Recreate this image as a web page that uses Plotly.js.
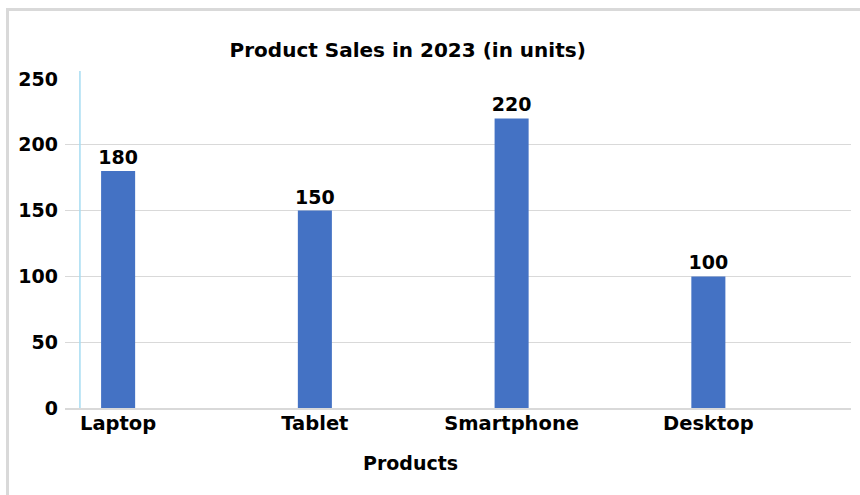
<!DOCTYPE html>
<html>
<head>
<meta charset="utf-8">
<script src="https://cdn.plot.ly/plotly-3.0.1.min.js"></script>
<style>
  html, body { margin: 0; padding: 0; background: #ffffff; }
  #chart { position: absolute; left: 0; top: 0; width: 860px; height: 495px; }
  #frame { position: absolute; left: 6px; top: 8px; width: 900px; height: 600px;
           border-left: 3px solid #d9d9d9; border-top: 3px solid #d9d9d9;
           pointer-events: none; z-index: 5; }
</style>
</head>
<body>
<div id="chart"></div>
<div id="frame"></div>
<script>
const categories = ["Laptop", "Tablet", "Smartphone", "Desktop"];
const sales = [180, 150, 220, 100];
const yTicks = [0, 50, 100, 150, 200, 250];

const FONT = "DejaVu Sans, Liberation Sans, Arial, sans-serif";

const trace = {
  type: "bar",
  x: categories,
  y: sales,
  width: 0.173,
  marker: { color: "#4472C4" },
  text: sales.map(String),
  textposition: "outside",
  constraintext: "none",
  cliponaxis: false,
  textfont: { family: FONT, size: 19, color: "#000000", weight: "bold" },
  hoverinfo: "skip"
};

const layout = {
  width: 860,
  height: 495,
  margin: { l: 65, r: 9, t: 79, b: 87 },
  paper_bgcolor: "#ffffff",
  plot_bgcolor: "#ffffff",
  showlegend: false,
  font: { family: FONT, color: "#000000" },
  title: {
    text: "<b>Product Sales in 2023 (in units)</b>",
    font: { family: FONT, size: 20, color: "#000000" },
    xref: "paper", x: 0.436, xanchor: "center",
    yref: "container", y: 0.899, yanchor: "middle"
  },
  xaxis: {
    type: "category",
    range: [-0.27, 3.725],
    showgrid: false,
    zeroline: false,
    showline: true,
    linecolor: "#d9d9d9",
    linewidth: 2,
    ticks: "",
    ticklabelstandoff: -3,
    tickfont: { family: FONT, size: 19.5, color: "#000000", weight: "bold" },
    fixedrange: true
  },
  yaxis: {
    range: [0, 250],
    tickvals: yTicks,
    ticktext: yTicks.map(String),
    showgrid: true,
    gridcolor: "#d9d9d9",
    gridwidth: 1,
    zeroline: false,
    showline: false,
    ticks: "",
    ticklabelstandoff: 6,
    tickfont: { family: FONT, size: 19, color: "#000000", weight: "bold" },
    fixedrange: true
  },
  shapes: [
    { type: "line", xref: "paper", yref: "paper",
      x0: 0.019, x1: 0.019, y0: 0, y1: 1.024,
      line: { color: "#a6dcf2", width: 1.5 } }
  ],
  annotations: [
    { text: "<b>Products</b>", xref: "paper", yref: "paper",
      x: 0.439, y: -0.167, xanchor: "center", yanchor: "middle",
      showarrow: false, font: { family: FONT, size: 19, color: "#000000" } }
  ]
};

Plotly.newPlot("chart", [trace], layout, { displayModeBar: false, staticPlot: true });
</script>
</body>
</html>
